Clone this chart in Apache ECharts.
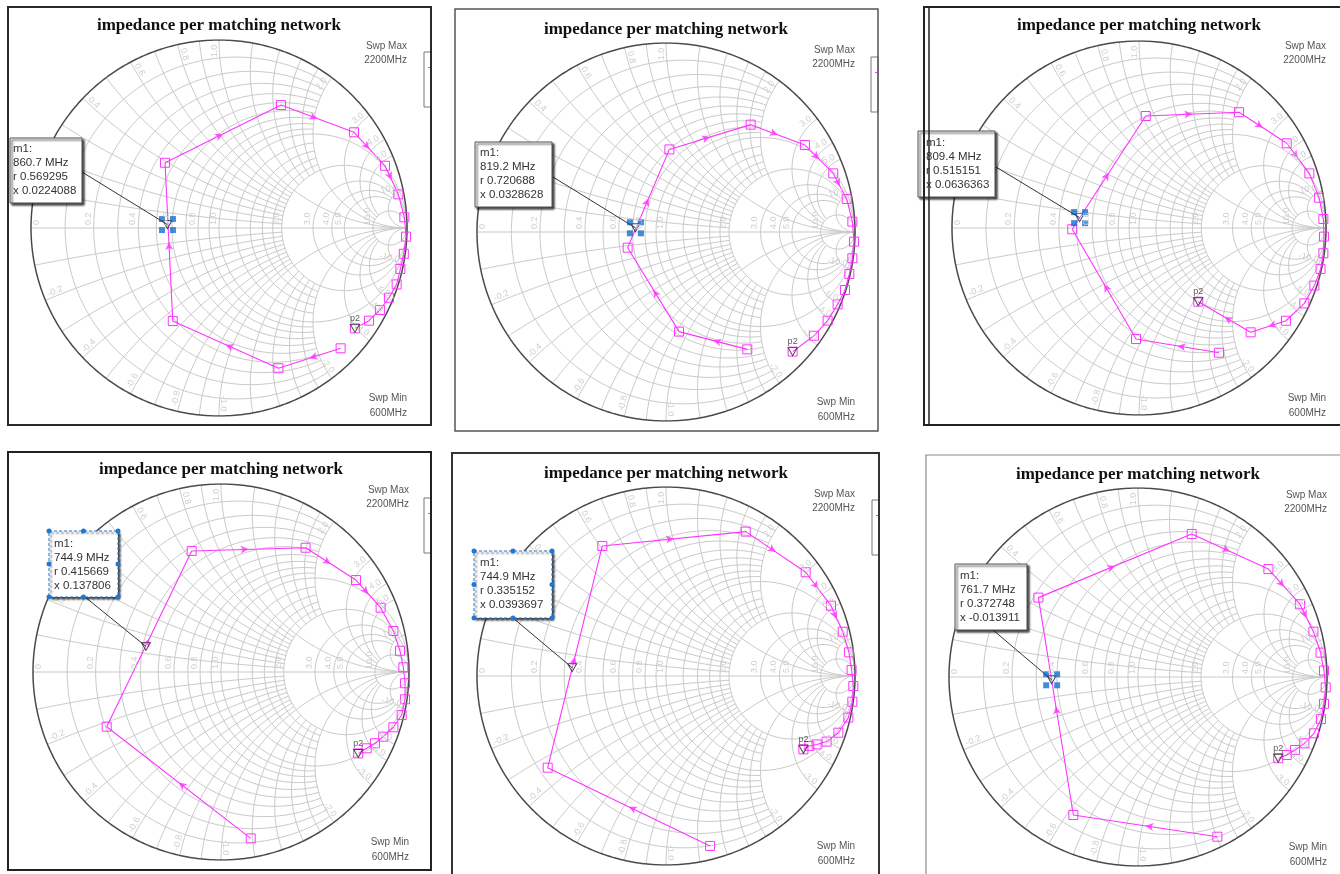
<!DOCTYPE html>
<html><head><meta charset="utf-8">
<script src="https://cdn.jsdelivr.net/npm/echarts@6/dist/echarts.min.js"></script>
<style>html,body{margin:0;padding:0;background:#fff;overflow:hidden}#c{width:1340px;height:874px}</style>
</head><body><div id="c"></div><script>
// ---------- DATA ----------
const freqMHz = [600,700,800,900,1000,1100,1200,1300,1400,1500,1600,1700,1800,1900,2000,2100,2200];
const chartTitle = 'impedance per matching network';
const swpMaxText = ['Swp Max', '2200MHz'];
const swpMinText = ['Swp Min', '600MHz'];

const gRe1 = [0.647,0.316,-0.246,-0.287,0.330,0.718,0.883,0.954,0.986,0.995,0.983,0.965,0.945,0.904,0.856,0.798,0.723];
const gIm1 = [-0.640,-0.746,-0.495,0.347,0.654,0.509,0.331,0.179,0.057,-0.046,-0.137,-0.218,-0.300,-0.371,-0.436,-0.493,-0.534];
const gRe2 = [0.430,0.069,-0.203,0.018,0.448,0.735,0.885,0.956,0.986,0.995,0.986,0.970,0.947,0.908,0.855,0.783,0.670];
const gIm2 = [-0.621,-0.527,-0.083,0.437,0.568,0.460,0.310,0.175,0.055,-0.051,-0.139,-0.222,-0.307,-0.383,-0.469,-0.549,-0.633];
const gRe3 = [0.428,-0.016,-0.357,0.036,0.535,0.790,0.911,0.963,0.986,0.989,0.986,0.971,0.938,0.884,0.786,0.597,0.317];
const gIm3 = [-0.667,-0.594,-0.007,0.599,0.619,0.453,0.292,0.162,0.048,-0.046,-0.135,-0.219,-0.308,-0.403,-0.496,-0.558,-0.394];
const gRe4 = [0.158,-0.608,-0.156,0.450,0.718,0.849,0.917,0.952,0.970,0.979,0.979,0.961,0.917,0.863,0.819,0.775,0.730];
const gIm4 = [-0.885,-0.291,0.644,0.661,0.489,0.342,0.218,0.113,0.025,-0.060,-0.145,-0.229,-0.294,-0.344,-0.379,-0.406,-0.433];
const gRe5 = [0.233,-0.626,-0.337,0.422,0.739,0.873,0.935,0.968,0.982,0.991,0.986,0.965,0.912,0.850,0.797,0.758,0.727];
const gIm5 = [-0.899,-0.485,0.688,0.764,0.549,0.372,0.234,0.125,0.032,-0.053,-0.136,-0.220,-0.300,-0.347,-0.362,-0.370,-0.388];
const gRe6 = [0.420,-0.342,-0.527,0.284,0.690,0.857,0.928,0.966,0.984,0.993,0.984,0.968,0.931,0.880,0.831,0.787,0.742];
const gIm6 = [-0.845,-0.730,0.420,0.757,0.571,0.385,0.240,0.129,0.034,-0.055,-0.142,-0.223,-0.298,-0.351,-0.386,-0.413,-0.430];

// marker m1 readouts
const markerFreq = ['860.7 MHz','819.2 MHz','809.4 MHz','744.9 MHz','744.9 MHz','761.7 MHz'];
const markerR = [0.569295,0.720688,0.515151,0.415669,0.335152,0.372748];
const markerX = [0.0224088,0.0328628,0.0636363,0.137806,0.0393697,-0.013911];

// Smith grid values
const axisLabelR = [0,0.2,0.4,0.6,0.8,1.0,2.0,3.0,4.0,5.0,10.0];
const rimLabelX = [0.2,0.4,0.6,0.8,1.0,2.0,3.0,4.0,5.0,10.0,-0.2,-0.4,-0.6,-0.8,-1.0,-2.0,-3.0,-4.0,-5.0,-10.0];
const gridR = [[0.1,2],[0.2,2],[0.3,2],[0.4,2],[0.5,2],[0.6,2],[0.7,2],[0.8,2],[0.9,2],[1,Infinity],[1.2,2],[1.4,2],[1.6,2],[1.8,2],[2,Infinity],[3,10],[4,10],[5,10],[10,Infinity]];
const gridX = [[0.1,2],[0.2,2],[0.3,2],[0.4,2],[0.5,2],[0.6,2],[0.7,2],[0.8,2],[0.9,2],[1,Infinity],[1.2,2],[1.4,2],[1.6,2],[1.8,2],[2,Infinity],[3,10],[4,10],[5,10],[10,Infinity]];

const traces = [[gRe1,gIm1],[gRe2,gIm2],[gRe3,gIm3],[gRe4,gIm4],[gRe5,gIm5],[gRe6,gIm6]];

// ---------- LAYOUT ----------
const layout = [
  {cx:219, cy:228, R:188, frame:[8,7,431,425], fc:'#2a2a2a', fw:2, box:[10,138,72,65], tx:13, ty:149, lead:[82,172], sel:false, blue:true, stub:[424,52,7,55]},
  {cx:666, cy:232, R:189, frame:[455,9,878,431], fc:'#555', fw:1.5, box:[475,142,77,65], tx:480, ty:153, lead:[553,177], sel:false, blue:true, stub:[871,57,7,55]},
  {cx:1139, cy:228, R:187, frame:[924,7,1346,425], fc:'#222', fw:2, box:[918,131,77,66], tx:926, ty:143, lead:[996,167], sel:false, blue:true, dbl:true},
  {cx:221, cy:672, R:188, frame:[8,452,431,870], fc:'#222', fw:2, box:[49,531,69,66], tx:54, ty:544, lead:[85,597], sel:true, blue:false, stub:[424,498,7,55]},
  {cx:666, cy:676, R:189, frame:[452,453,879,880], fc:'#333', fw:2, box:[474,551,78,67], tx:480, ty:563, lead:[513,618], sel:true, blue:false, stub:[872,500,7,55]},
  {cx:1138, cy:677, R:189, frame:[926,455,1346,880], fc:'#8a8a8a', fw:1.2, box:[955,564,72,66], tx:960, ty:576, lead:[993,630], sel:false, blue:true}
];
const MAG = '#ff33ff';
const GRIDC = '#c9c9c9';
const LABC = '#cfcfcf';

// ---------- SMITH GEOMETRY ----------
function gammaOf(r, x){ const d=(r+1)*(r+1)+x*x; return [(r*r-1+x*x)/d, 2*x/d]; }
function arcPts(ccx, ccy, rad, a0, a1){
  const n = Math.max(6, Math.ceil(Math.abs(a1-a0)*rad*70));
  const pts=[];
  for(let k=0;k<=n;k++){ const a=a0+(a1-a0)*k/n; pts.push([ccx+rad*Math.cos(a), ccy+rad*Math.sin(a)]); }
  return pts;
}
function rCircle(r, X){
  const c=r/(1+r), rho=1/(1+r);
  let a=0;
  if(isFinite(X)){ const g=gammaOf(r,X); a=Math.atan2(g[1], g[0]-c); }
  return arcPts(c,0,rho,a,2*Math.PI-a);
}
function xArc(x, Rmax){
  const ax=Math.abs(x), s=Math.sign(x), c=1/ax;
  const norm=a=>a<0?a+2*Math.PI:a;
  const g0=gammaOf(0,ax);
  const a0=norm(Math.atan2(g0[1]-c, g0[0]-1));
  let a1=1.5*Math.PI;
  if(isFinite(Rmax)){ const g1=gammaOf(Rmax,ax); a1=norm(Math.atan2(g1[1]-c, g1[0]-1)); }
  return arcPts(1,c,c,a0,a1).map(p=>[p[0], s*p[1]]);
}
const gridArcs = [];
gridR.forEach(([r,X])=>gridArcs.push({coords:rCircle(r,X)}));
gridX.forEach(([x,Rm])=>{ gridArcs.push({coords:xArc(x,Rm)}); gridArcs.push({coords:xArc(-x,Rm)}); });
gridArcs.push({coords:[[-1,0],[1,0]]});
const outer = [{coords:arcPts(0,0,1,0,2*Math.PI)}];

// ---------- OPTION ----------
const option = {animation:false, backgroundColor:'#fff', grid:[], xAxis:[], yAxis:[], series:[]};
layout.forEach((L,i)=>{
  option.grid.push({left:L.cx-L.R, top:L.cy-L.R, width:2*L.R, height:2*L.R, show:false});
  option.xAxis.push({type:'value', gridIndex:i, min:-1, max:1, show:false});
  option.yAxis.push({type:'value', gridIndex:i, min:-1, max:1, show:false});
  const re=traces[i][0], im=traces[i][1];
  const ax={xAxisIndex:i, yAxisIndex:i};
  option.series.push(Object.assign({type:'lines', coordinateSystem:'cartesian2d', polyline:true, silent:true, data:gridArcs, lineStyle:{color:GRIDC, width:1, opacity:1}, z:1}, ax));
  option.series.push(Object.assign({type:'lines', coordinateSystem:'cartesian2d', polyline:true, silent:true, data:outer, lineStyle:{color:'#4a4a4a', width:1.5, opacity:1}, z:2}, ax));
  option.series.push(Object.assign({type:'line', data:freqMHz.map((f,k)=>[re[k],im[k]]), symbol:'rect', symbolSize:9, showAllSymbol:true, clip:false, silent:true,
    lineStyle:{color:MAG, width:1.1}, itemStyle:{color:'rgba(255,255,255,0)', borderColor:MAG, borderWidth:1}, z:3}, ax));
  // direction arrows at segment midpoints
  const arrows=[];
  for(let k=0;k<re.length-1;k++){
    const dx=re[k+1]-re[k], dy=im[k+1]-im[k];
    if(Math.hypot(dx,dy)<0.15) continue;
    arrows.push({value:[(re[k]+re[k+1])/2,(im[k]+im[k+1])/2], symbolRotate:Math.atan2(dy,dx)*180/Math.PI-90});
  }
  option.series.push(Object.assign({type:'scatter', data:arrows, symbol:'arrow', symbolSize:[6,8], itemStyle:{color:MAG}, silent:true, clip:false, z:4}, ax));
  // m1 marker
  const m = gammaOf(markerR[i], markerX[i]);
  option.series.push(Object.assign({type:'scatter', data:[m], symbol:'triangle', symbolRotate:180, symbolSize:[9,8], clip:false, silent:true,
    itemStyle:{color:'rgba(255,255,255,0.3)', borderColor:'#222', borderWidth:1}, z:5}, ax));
  if(L.blue){
    const o=5.5;
    option.series.push(Object.assign({type:'scatter', clip:false, silent:true, symbol:'rect', symbolSize:6, itemStyle:{color:'#136fce'}, z:6,
      data:[{value:m, symbolOffset:[-o,-o]},{value:m, symbolOffset:[o,-o]},{value:m, symbolOffset:[-o,o]},{value:m, symbolOffset:[o,o]}]}, ax));
  }
  // p2 marker at sweep end
  const last=re.length-1;
  option.series.push(Object.assign({type:'scatter', data:[[re[last],im[last]]], symbol:'triangle', symbolRotate:180, symbolSize:[9,8], clip:false, silent:true,
    itemStyle:{color:'rgba(255,255,255,0.3)', borderColor:'#222', borderWidth:1},
    label:{show:true, formatter:'p2', position:'top', distance:1, fontSize:9, color:'#333', fontFamily:'Liberation Sans'}, z:5}, ax));
});

const chart = echarts.init(document.getElementById('c'));
chart.setOption(option);

// ---------- TEXT / DECORATION ----------
const G=[];
function txt(x,y,s,font,fill,align,valign,rot,z){
  G.push({type:'text', x:x, y:y, rotation:rot||0, z:z||50, silent:true,
    style:{text:s, font:font, fill:fill, textAlign:align, align:align, textVerticalAlign:valign, verticalAlign:valign}});
}
layout.forEach((L,i)=>{
  const px=p=>chart.convertToPixel({gridIndex:i}, p);
  // faint resistance labels on real axis
  axisLabelR.forEach(r=>{
    const p=px([(r-1)/(r+1),0]);
    const xx = r===0 ? p[0]+10 : p[0]-1;
    txt(xx, p[1]-3, r===0?'0':r.toFixed(1), '9px "Liberation Sans"', LABC, 'left', 'bottom', Math.PI/2, 10);
  });
  // faint reactance labels near rim
  rimLabelX.forEach(x=>{
    const g=gammaOf(0,x);
    const a=Math.atan2(g[1],g[0]);
    const p=px([g[0]*0.975,g[1]*0.975]);
    const s=x.toFixed(1);
    if(Math.abs(a)<=Math.PI/2) txt(p[0],p[1],s,'9px "Liberation Sans"',LABC,'right','bottom',a,10);
    else txt(p[0],p[1],s,'9px "Liberation Sans"',LABC,'left','bottom',a>0?a-Math.PI:a+Math.PI,10);
  });
  // title
  txt(L.cx, L.cy-202, chartTitle, 'bold 17px "Liberation Serif"', '#111', 'center', 'middle', 0, 60);
  // sweep texts
  txt(L.cx+L.R, L.cy-182, swpMaxText[0], '10px "Liberation Sans"', '#555', 'right', 'middle', 0, 60);
  txt(L.cx+L.R, L.cy-168, swpMaxText[1], '10px "Liberation Sans"', '#555', 'right', 'middle', 0, 60);
  txt(L.cx+L.R, L.cy+170, swpMinText[0], '10px "Liberation Sans"', '#555', 'right', 'middle', 0, 60);
  txt(L.cx+L.R, L.cy+185, swpMinText[1], '10px "Liberation Sans"', '#555', 'right', 'middle', 0, 60);
  // leader line
  const mp=px(gammaOf(markerR[i],markerX[i]));
  G.push({type:'line', z:40, silent:true, shape:{x1:L.lead[0],y1:L.lead[1],x2:mp[0],y2:mp[1]}, style:{stroke:'#333',lineWidth:1}});
  // marker box
  const b=L.box;
  G.push({type:'rect', z:45, silent:true, shape:{x:b[0],y:b[1],width:b[2],height:b[3]},
    style:{fill:'#fff', stroke:L.sel?'#1f78d1':'#555', lineWidth:1, lineDash:L.sel?[3,2]:null,
      shadowBlur:2, shadowOffsetX:2, shadowOffsetY:2, shadowColor:'rgba(0,0,0,0.75)'}});
  if(L.sel){
    const xs=[b[0],b[0]+b[2]/2,b[0]+b[2]], ys=[b[1],b[1]+b[3]/2,b[1]+b[3]];
    xs.forEach((hx,a)=>ys.forEach((hy,c)=>{ if(a===1&&c===1) return;
      G.push({type:'circle', z:48, silent:true, shape:{cx:hx,cy:hy,r:2.5}, style:{fill:'#1f78d1'}}); }));
  }
  const lines=['m1:', markerFreq[i], 'r '+markerR[i], 'x '+markerX[i]];
  lines.forEach((s,k)=>txt(L.tx, L.ty+k*14, s, '11.5px "Liberation Sans"', '#333', 'left', 'middle', 0, 47));
  // legend stub
  if(L.stub){
    const s=L.stub;
    G.push({type:'rect', z:30, silent:true, shape:{x:s[0],y:s[1],width:s[2],height:s[3]}, style:{fill:'#fff', stroke:'#777', lineWidth:1}});
    G.push({type:'rect', z:31, silent:true, shape:{x:s[0]+s[2]-3,y:s[1]+15,width:2,height:1}, style:{fill:MAG}});
  }
  // frame
  const f=L.frame;
  G.push({type:'rect', z:70, silent:true, shape:{x:f[0],y:f[1],width:f[2]-f[0],height:f[3]-f[1]}, style:{fill:'none', stroke:L.fc, lineWidth:L.fw}});
  if(L.dbl) G.push({type:'line', z:70, silent:true, shape:{x1:f[0]+5,y1:f[1],x2:f[0]+5,y2:f[3]}, style:{stroke:L.fc, lineWidth:1.5}});
});
chart.setOption({graphic:{elements:G}});
</script></body></html>
